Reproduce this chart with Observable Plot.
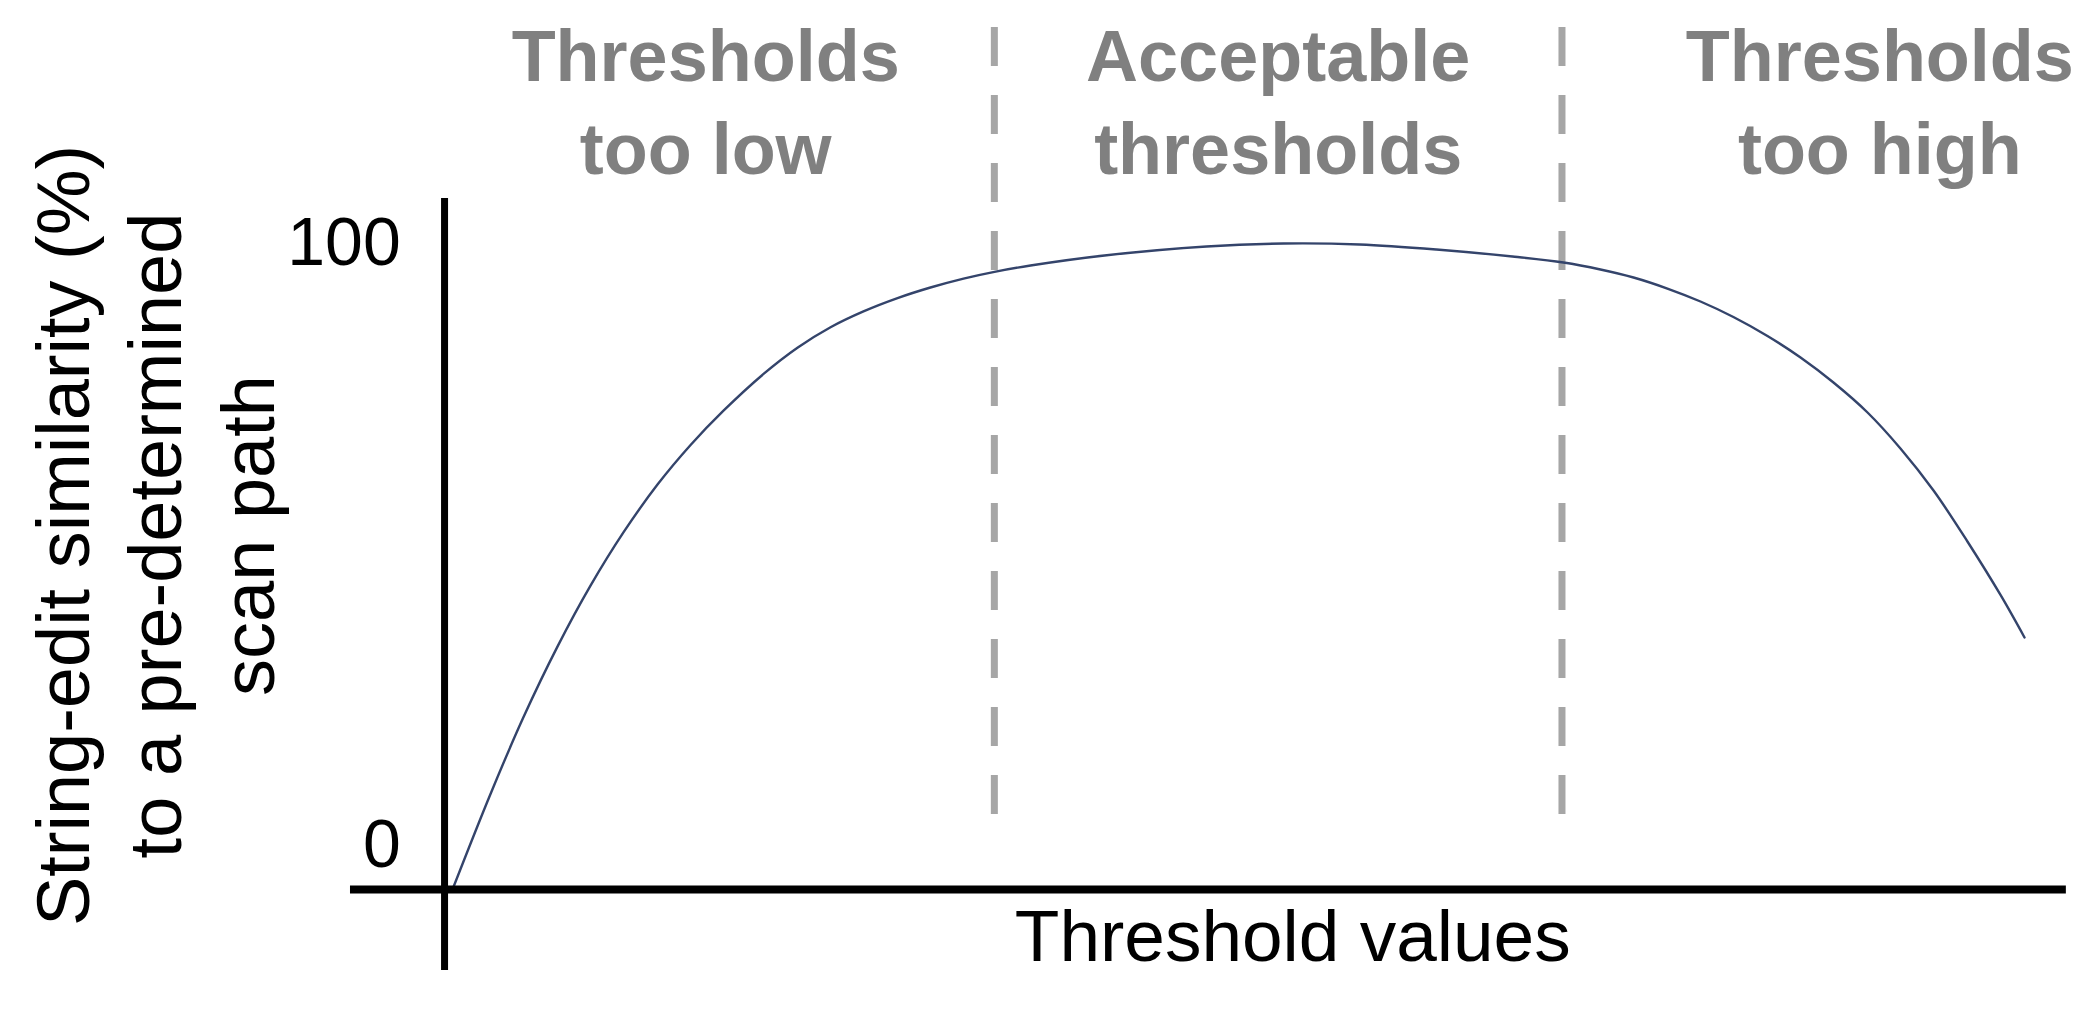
<!DOCTYPE html>
<html>
<head>
<meta charset="utf-8">
<script src="https://cdn.jsdelivr.net/npm/d3@7"></script>
<script src="https://cdn.jsdelivr.net/npm/@observablehq/plot@0.6"></script>
<style>
  html, body { margin: 0; padding: 0; background: #ffffff; }
  #chart svg { display: block; }
</style>
</head>
<body>
<div id="chart"></div>
<script>
// ---- Data ----
const thresholdValues = [0.49, 2.84, 4.87, 6.97, 9.00, 11.04, 13.13, 15.17, 17.20, 19.67, 21.76, 23.80, 25.83, 27.93, 29.96, 32.00, 33.91, 36.13, 40.69, 46.98, 51.73, 56.42, 61.16, 65.85, 68.99, 71.27, 73.31, 75.40, 77.44, 79.47, 81.57, 83.61, 85.64, 87.74, 89.77, 91.81, 93.90, 95.94, 97.42];
const similarityValues = [0, 14.83, 26.69, 37.63, 47.03, 55.31, 62.68, 68.81, 74.12, 79.81, 83.87, 87.04, 89.49, 91.55, 93.19, 94.57, 95.62, 96.59, 98.14, 99.54, 100.00, 99.85, 99.07, 97.99, 97.06, 95.98, 94.74, 93.03, 91.02, 88.62, 85.68, 82.35, 78.48, 73.84, 68.27, 61.76, 53.87, 45.59, 39.01];

const zoneBoundaries = [33.9, 68.9];
const zoneLabels = ["Thresholds\ntoo low", "Acceptable\nthresholds", "Thresholds\ntoo high"];
const zoneLabelX = [16.1, 51.4, 88.5];

const yTickValues = [100, 0];
const yTickLabels = ["100", "0"];

const xAxisTitle = "Threshold values";
const yAxisTitle = "String-edit similarity (%)\nto a pre-determined\nscan path";

// ---- Layout constants (scale units) ----
const X_DOMAIN = [-27.38, 101.92];
const Y_DOMAIN = [-18.89, 137.62];
const X_AXIS_EXTENT = [-5.8, 100];
const Y_AXIS_EXTENT = [-12.54, 106.97];
const DASH_EXTENT = [133.44, 11.61];
const ZONE_LABEL_TOP = 135.5;
const TICK_LABEL_X = -2.7;
const ZERO_LABEL_LIFT = 6.8;
const X_TITLE_POS = [52.3, -7.45];
const Y_TITLE_POS = [-18.05, 54.8];

const curveData = thresholdValues.map((x, i) => ({x, y: similarityValues[i]}));
const tickData = yTickValues.map((v, i) => ({v, label: yTickLabels[i], y: v === 0 ? v + ZERO_LABEL_LIFT : v}));

const font = "'Liberation Sans', Arial, sans-serif";

const chart = Plot.plot({
  width: 2097,
  height: 1011,
  margin: 0,
  style: {background: "#ffffff", fontFamily: font},
  x: {domain: X_DOMAIN, axis: null},
  y: {domain: Y_DOMAIN, axis: null},
  marks: [
    Plot.ruleX(zoneBoundaries, {x: d => d, y1: DASH_EXTENT[0], y2: DASH_EXTENT[1], stroke: "#a6a6a6", strokeWidth: 7, strokeDasharray: "39,29"}),
    Plot.line(curveData, {x: "x", y: "y", curve: "catmull-rom", stroke: "#34446b", strokeWidth: 2.4}),
    Plot.ruleY([0], {x1: X_AXIS_EXTENT[0], x2: X_AXIS_EXTENT[1], stroke: "#000000", strokeWidth: 8}),
    Plot.ruleX([0], {y1: Y_AXIS_EXTENT[0], y2: Y_AXIS_EXTENT[1], stroke: "#000000", strokeWidth: 7}),
    Plot.text(tickData, {x: TICK_LABEL_X, y: "y", text: "label", textAnchor: "end", lineAnchor: "middle", fontSize: 68, fill: "#000000", fontFamily: font}),
    Plot.text([xAxisTitle], {x: X_TITLE_POS[0], y: X_TITLE_POS[1], text: d => d, textAnchor: "middle", lineAnchor: "middle", fontSize: 73, fill: "#000000", fontFamily: font}),
    Plot.text([yAxisTitle], {x: Y_TITLE_POS[0], y: Y_TITLE_POS[1], text: d => d, rotate: -90, textAnchor: "middle", lineAnchor: "middle", lineHeight: 1.25, fontSize: 74, fill: "#000000", fontFamily: font}),
    Plot.text(zoneLabels, {x: (d, i) => zoneLabelX[i], y: ZONE_LABEL_TOP, text: d => d, textAnchor: "middle", lineAnchor: "top", lineHeight: 1.3, fontSize: 72, fontWeight: "bold", fill: "#808080", fontFamily: font})
  ]
});

document.getElementById("chart").appendChild(chart);
</script>
</body>
</html>
